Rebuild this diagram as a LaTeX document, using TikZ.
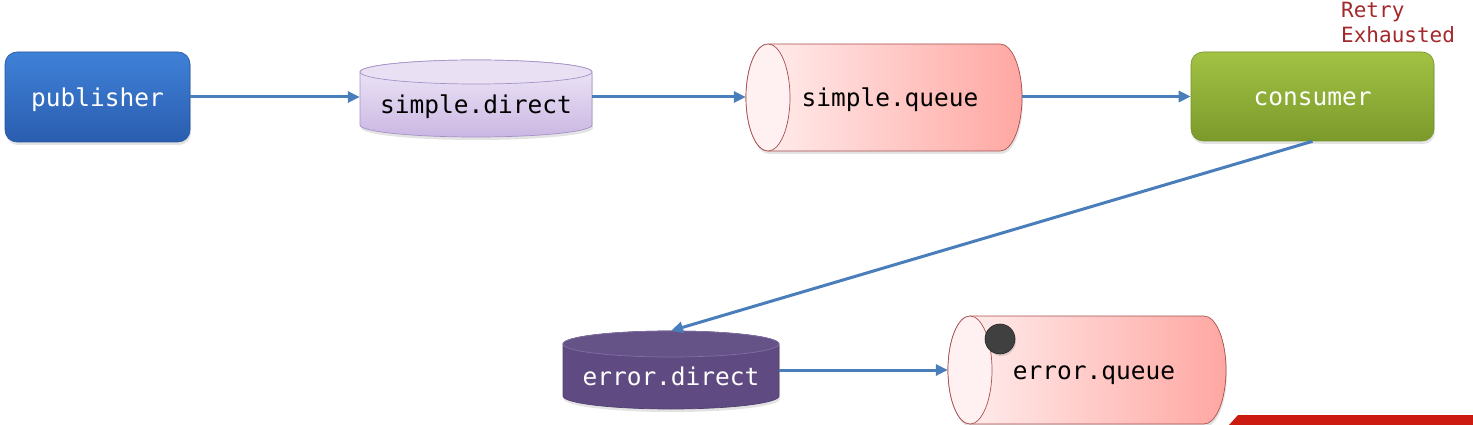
\documentclass[tikz,border=0pt]{standalone}
\usepackage{fontspec}
\newfontfamily\mono{DejaVu Sans Mono}
\usetikzlibrary{arrows.meta,shadows}
\definecolor{arrowblue}{HTML}{4A7EBB}
\definecolor{pubtop}{HTML}{3F81D8}
\definecolor{pubbot}{HTML}{2A5DAF}
\definecolor{constop}{HTML}{A2C244}
\definecolor{consbot}{HTML}{7B9A2B}
\definecolor{lavtop}{HTML}{F0EAF8}
\definecolor{lavbot}{HTML}{CBB7E3}
\definecolor{lavline}{HTML}{A592C6}
\definecolor{qleft}{HTML}{FFF1F1}
\definecolor{qright}{HTML}{FFA7A2}
\definecolor{qline}{HTML}{A84E4E}
\definecolor{edfill}{HTML}{5F4B82}
\definecolor{edline}{HTML}{806FA3}
\definecolor{retryred}{HTML}{A3282B}
\definecolor{banner}{HTML}{CC1B10}
\tikzset{
  arr/.style={draw=arrowblue, line width=3pt, -{Triangle[length=12pt,width=11pt]}},
  txt/.style={inner sep=0pt, font=\mono\fontsize{24.5}{28}\selectfont, text depth=5.9pt},
  softshadow/.style={drop shadow={opacity=0.22, shadow xshift=1pt, shadow yshift=-3pt}},
  boxnode/.style={txt, rounded corners=12pt, text=white, softshadow},
  qbody/.style={left color=qleft, right color=qright, draw=qline, line width=0.7pt, softshadow},
  qface/.style={fill=qleft, draw=qline, line width=0.7pt},
}
\begin{document}
\begin{tikzpicture}[x=1pt, y=-1pt]
\useasboundingbox (0,0) rectangle (1473,425);

% ---- cylinder graphics ----
% simple.direct (vertical)
\path[top color=lavtop, bottom color=lavbot, draw=lavline, line width=0.7pt, softshadow]
  (360,72) -- (360,125) arc[start angle=180, end angle=0, x radius=116, y radius=12]
  -- (592,72) arc[start angle=0, end angle=-180, x radius=116, y radius=12] -- cycle;
\draw[fill=lavtop!80!lavbot, draw=lavline, line width=0.7pt] (476,72) ellipse [x radius=116, y radius=12];

% simple.queue (horizontal)
\path[qbody] (768,44) -- (1000,44) arc[start angle=-90, end angle=90, x radius=22, y radius=53.5]
  -- (768,151) arc[start angle=90, end angle=270, x radius=22, y radius=53.5] -- cycle;
\draw[qface] (768,97.5) ellipse [x radius=22, y radius=53.5];

% error.direct (vertical)
\path[fill=edfill, draw=edfill!85!black, line width=0.7pt, softshadow]
  (563,344) -- (563,396) arc[start angle=180, end angle=0, x radius=108, y radius=13]
  -- (779,344) arc[start angle=0, end angle=-180, x radius=108, y radius=13] -- cycle;
\draw[fill=edfill!96!white, draw=edline, line width=0.7pt] (671,344) ellipse [x radius=108, y radius=13];

% error.queue (horizontal)
\path[qbody] (970,316) -- (1204,316) arc[start angle=-90, end angle=90, x radius=22, y radius=54]
  -- (970,424) arc[start angle=90, end angle=270, x radius=22, y radius=54] -- cycle;
\draw[qface] (970,370) ellipse [x radius=22, y radius=54];

% ---- nodes ----
\node[boxnode, minimum width=185pt, minimum height=90pt, text height=24pt,
      top color=pubtop, bottom color=pubbot, draw=pubbot!90!black, line width=0.6pt]
      (pub) at (97.5,97) {publisher};
\node[boxnode, minimum width=243pt, minimum height=89pt, text height=24pt,
      top color=constop, bottom color=consbot, draw=consbot!95!black, line width=0.6pt]
      (cons) at (1312.5,96.5) {consumer};
\node[txt, minimum width=232pt, minimum height=77pt, text height=35pt] (sd) at (476,98.5) {simple.direct};
\node[txt, minimum width=276pt, minimum height=107pt, text height=24pt] (sq) at (884,97.5) {\hspace*{12pt}simple.queue};
\node[txt, minimum width=216pt, minimum height=78pt, text height=37pt, text=white] (ed) at (671,370) {error.direct};
\node[txt, minimum width=278pt, minimum height=108pt, text height=25pt] (eq) at (1087,370) {\hspace*{14pt}error.queue};
\node[circle, minimum size=30pt, inner sep=0pt, fill=black!75, draw=black!85, line width=0.6pt,
      drop shadow={opacity=0.25, shadow xshift=1pt, shadow yshift=-2pt}] (dot) at (1000,339) {};
\node[anchor=north west, inner sep=0pt, align=left, text=retryred, font=\mono\fontsize{21}{25}\selectfont]
      (retry) at (1341,2) {Retry\\Exhausted};

% ---- connectors ----
\draw[arr] (pub.east) -- (sd.west |- pub.east);
\draw[arr] (sd.east |- pub.east) -- (sq.west |- pub.east);
\draw[arr] (sq.east |- cons.west) -- (cons.west);
\draw[arr] (cons.south) -- (ed.north);
\draw[arr] (ed.east) -- (eq.west);

% ---- red banner at the bottom right ----
\fill[banner] (1229,425) -- (1238,415) -- (1473,415) -- (1473,425) -- cycle;
\end{tikzpicture}
\end{document}
